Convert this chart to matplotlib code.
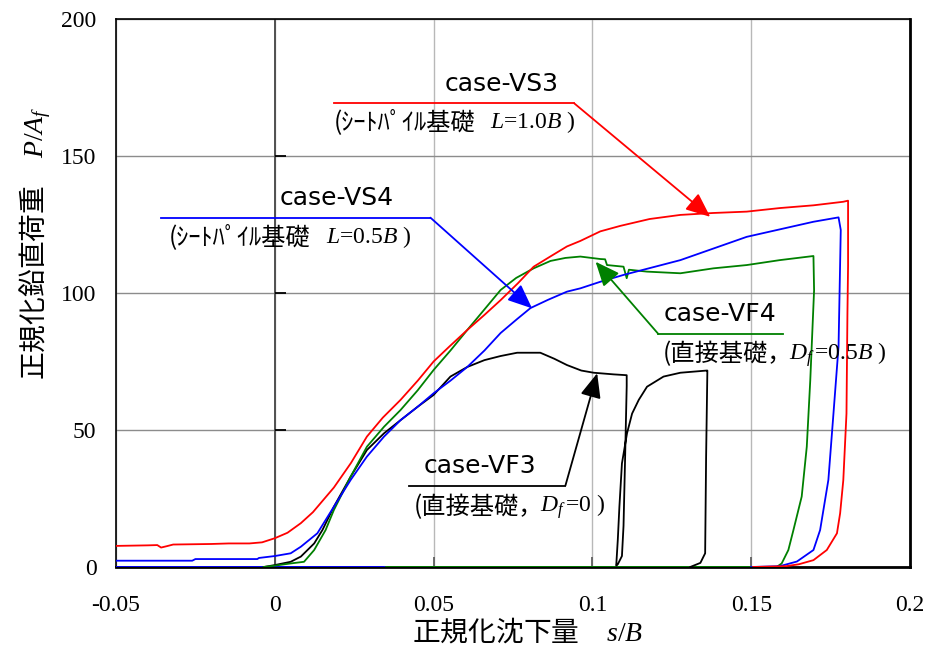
import numpy as np
import matplotlib
matplotlib.use('Agg')
import matplotlib.pyplot as plt
from matplotlib import markers

plt.rcParams['mathtext.fontset'] = 'custom'
plt.rcParams['mathtext.rm'] = 'Liberation Serif'
plt.rcParams['mathtext.it'] = 'Liberation Serif:italic'
plt.rcParams['mathtext.bf'] = 'Liberation Serif:bold'
plt.rcParams['font.family'] = ['Liberation Serif', 'DejaVu Sans']
JP = ['Noto Sans CJK JP', 'DejaVu Sans']

# ---------------- data ----------------
x_ticks = [-0.05, 0.0, 0.05, 0.1, 0.15, 0.2]
x_tick_labels = ['-0.05', '0', '0.05', '0.1', '0.15', '0.2']
y_ticks = [0, 50, 100, 150, 200]
y_tick_labels = ['0', '50', '100', '150', '200']

# case-VS3 (sheet pile, L=1.0B)  red
vs3_x = [-0.050, -0.040, -0.037, -0.0358, -0.034, -0.032, -0.020, -0.0145, -0.008, -0.004,
         0.000, 0.004, 0.0082, 0.012, 0.0186, 0.024, 0.029, 0.034, 0.0396, 0.045,
         0.050, 0.055, 0.0606, 0.066, 0.0711, 0.0765, 0.0815, 0.087, 0.092, 0.0962,
         0.1025, 0.1088, 0.118, 0.1277, 0.138, 0.1486, 0.159, 0.1696, 0.179, 0.1805,
         0.1805, 0.1803, 0.1800, 0.1790, 0.1780, 0.1770, 0.1738, 0.1696, 0.1650, 0.161, 0.1506]
vs3_y = [7.7, 7.9, 8.0, 7.1, 7.6, 8.2, 8.4, 8.6, 8.6, 9.0,
         10.5, 12.5, 16.0, 20.0, 29.0, 38.0, 47.6, 54.5, 61.0, 68.0,
         75.0, 80.5, 86.5, 92.0, 97.4, 103.5, 109.6, 113.5, 117.0, 119.0,
         122.5, 124.5, 127.0, 128.5, 129.2, 129.7, 131.0, 132.0, 133.3, 133.7,
         110.0, 92.6, 56.0, 31.7, 19.6, 12.3, 6.2, 2.5, 1.0, 0.3, 0.0]

# case-VS4 (sheet pile, L=0.5B)  blue
vs4_x = [-0.050, -0.026, -0.025, -0.0055, -0.005, 0.000, 0.005, 0.0082, 0.0134, 0.0186,
         0.0239, 0.029, 0.0344, 0.0396, 0.045, 0.050, 0.0553, 0.0606, 0.066, 0.0711,
         0.0763, 0.0805, 0.086, 0.092, 0.0962, 0.1025, 0.1098, 0.1277, 0.1486, 0.1696,
         0.1775, 0.1782, 0.1775, 0.1759, 0.1743, 0.1717, 0.1696, 0.1644, 0.159, 0.150]
vs4_y = [2.3, 2.3, 2.9, 2.9, 3.3, 4.0, 5.0, 7.4, 12.3, 22.0,
         31.8, 40.3, 47.6, 53.6, 58.5, 63.4, 68.0, 73.0, 79.0, 85.4,
         90.5, 94.5, 97.5, 100.5, 101.7, 104.1, 106.6, 112.0, 120.5, 126.0,
         127.6, 123.0, 80.4, 56.0, 31.8, 13.5, 6.2, 2.0, 0.3, 0.0]
vs4_base_x = [-0.050, 0.035]
vs4_base_y = [0.0, 0.0]

# case-VF4 (spread footing, Df=0.5B)  green
vf4_x = [-0.0035, 0.000, 0.005, 0.0092, 0.0124, 0.016, 0.0186, 0.0239, 0.029, 0.0344,
         0.0396, 0.045, 0.050, 0.0553, 0.0606, 0.066, 0.0711, 0.076, 0.0815, 0.0868,
         0.0915, 0.0962, 0.1025, 0.1040, 0.1046, 0.1098, 0.1108, 0.1115, 0.1172, 0.1277,
         0.1381, 0.1486, 0.159, 0.1696, 0.1698, 0.1686, 0.1675, 0.1659, 0.1633, 0.1617,
         0.1596, 0.158]
vf4_y = [0.0, 0.5, 1.3, 1.9, 6.2, 13.5, 20.8, 33.0, 43.9, 51.2,
         57.3, 64.5, 71.9, 79.0, 86.5, 94.0, 101.1, 105.5, 109.0, 111.7,
         112.8, 113.3, 112.4, 112.3, 110.2, 109.6, 105.4, 108.5, 107.8, 107.2,
         109.0, 110.2, 112.0, 113.5, 101.0, 68.2, 43.9, 25.7, 13.5, 6.2,
         1.3, 0.0]
vf4_base_x = [0.035, 0.150]
vf4_base_y = [0.0, 0.0]

# case-VF3 (spread footing, Df=0)  black
vf3_x = [-0.0035, 0.000, 0.005, 0.0082, 0.0124, 0.015, 0.0186, 0.0239, 0.029, 0.0344,
         0.0396, 0.045, 0.050, 0.0553, 0.0606, 0.066, 0.0711, 0.0763, 0.0836, 0.088,
         0.092, 0.0965, 0.1004, 0.1067, 0.1108, 0.1108, 0.1103, 0.1098, 0.1093, 0.108,
         0.1075, 0.1080, 0.1085, 0.1093, 0.1109, 0.1125, 0.1146, 0.1172, 0.1224, 0.1277,
         0.136, 0.1362, 0.1358, 0.1355, 0.1340, 0.1308]
vf3_y = [0.0, 0.7, 1.9, 3.8, 8.6, 13.5, 22.0, 33.0, 42.7, 48.8,
         53.6, 58.5, 62.8, 69.5, 73.0, 75.5, 77.0, 78.2, 78.2, 76.0,
         73.7, 71.7, 70.9, 70.3, 70.0, 66.0, 40.0, 15.0, 4.0, 1.0,
         0.5, 10.0, 22.0, 37.8, 48.8, 56.0, 61.0, 65.8, 69.5, 70.9,
         71.7, 71.7, 40.0, 5.0, 1.5, 0.0]

RED, BLUE, GREEN, BLACK = '#ff0000', '#0000ff', '#008000', '#000000'

# ---------------- figure ----------------
fig = plt.figure(figsize=(9.31, 6.49), dpi=100)
ax = fig.add_axes([116 / 931, 1 - 567 / 649, 794 / 931, 548 / 649])
ax.set_xlim(-0.05, 0.2)
ax.set_ylim(0, 200)

ax.set_xticks(x_ticks, x_tick_labels)
ax.set_yticks(y_ticks, y_tick_labels)
ax.tick_params(axis='both', length=0, labelsize=17)
ax.tick_params(axis='x', pad=20)
ax.tick_params(axis='y', pad=14)

ax.set_axisbelow(True)
ax.grid(axis='y', color='#8c8c8c', lw=1.0)
ax.grid(axis='x', color='#b8b8b8', lw=1.0)
ax.axvline(0, color='#505050', lw=1.4, zorder=1.5)

# inner tick marks (Excel-style crossing axis at 0)
ax.plot([0.0] * len(y_ticks[1:-1]), y_ticks[1:-1], ls='none',
        marker=markers.TICKRIGHT, ms=8, mew=1.3, color='k', zorder=2)
ax.plot(x_ticks[2:-1], [0.0] * len(x_ticks[2:-1]), ls='none',
        marker=markers.TICKUP, ms=7, mew=1.3, color='#606060', zorder=2)

for s in ax.spines.values():
    s.set_color('k')
    s.set_linewidth(1.2)
ax.spines['bottom'].set_linewidth(2.0)
ax.spines['right'].set_linewidth(2.0)

lw = 1.3
ax.plot(vs4_base_x, vs4_base_y, color=BLUE, lw=lw, zorder=3)
ax.plot(vf4_base_x, vf4_base_y, color=GREEN, lw=lw, zorder=3)
ax.plot(vf3_x, vf3_y, color=BLACK, lw=lw, zorder=3)
ax.plot(vf4_x, vf4_y, color=GREEN, lw=lw, zorder=3)
ax.plot(vs4_x, vs4_y, color=BLUE, lw=lw, zorder=3)
ax.plot(vs3_x, vs3_y, color=RED, lw=lw, zorder=3)

# ---------------- annotations ----------------
def callout(title, tpos, line_x, line_y, corner, tip, color, sub1, s1pos, sub2, s2pos):
    ax.text(tpos[0], tpos[1], title, family='DejaVu Sans', fontsize=18,
            ha='center', va='center', zorder=5)
    ax.plot(line_x, line_y, color=color, lw=1.3, zorder=4)
    ax.annotate('', xy=tip, xytext=corner,
                arrowprops=dict(arrowstyle='-|>,head_length=0.75,head_width=0.32',
                                color=color, lw=1.3, shrinkA=0, shrinkB=0,
                                mutation_scale=20), zorder=4)
    ax.text(s1pos[0], s1pos[1], sub1, family=JP, fontsize=17.5,
            ha='left', va='center', zorder=5)
    ax.text(s2pos[0], s2pos[1], sub2, family=['Liberation Serif', 'DejaVu Sans'],
            fontsize=17, ha='left', va='center', zorder=5)

callout('case-VS3', (0.0714, 176.3), [0.0186, 0.0943], [169.2, 169.2],
        (0.0943, 169.2), (0.1371, 127.8), RED,
        '(ｼｰﾄﾊﾟｲﾙ基礎', (0.0186, 162.4), '$L$=1.0$B$ )', (0.0679, 162.4))
callout('case-VS4', (0.0195, 134.7), [-0.0358, 0.049], [127.5, 127.5],
        (0.049, 127.5), (0.081, 94.4), BLUE,
        '(ｼｰﾄﾊﾟｲﾙ基礎', (-0.0333, 120.4), '$L$=0.5$B$ )', (0.016, 120.4))
callout('case-VF4', (0.1403, 92.3), [0.1208, 0.160], [85.0, 85.0],
        (0.1208, 85.0), (0.101, 111.4), GREEN,
        '(直接基礎，', (0.1223, 77.7), r'$D_f\,$=0.5$B$ )', (0.162, 77.7))
callout('case-VF3', (0.0645, 36.9), [0.0421, 0.0915], [29.7, 29.7],
        (0.0915, 29.7), (0.1015, 70.7), BLACK,
        '(直接基礎，', (0.0437, 21.9), r'$D_f\,$=0 )', (0.0836, 21.9))

# ---------------- axis labels ----------------
ax.set_xlabel('正規化沈下量　$s/B$', family=JP, fontsize=20, va='center')
ax.xaxis.set_label_coords(0.519, -0.119)
ax.set_ylabel('正規化鉛直荷重　$P/A_f$', family=JP, fontsize=20, va='center')
ax.yaxis.set_label_coords(-0.102, 0.591)

fig.savefig('out.png', dpi=100)
